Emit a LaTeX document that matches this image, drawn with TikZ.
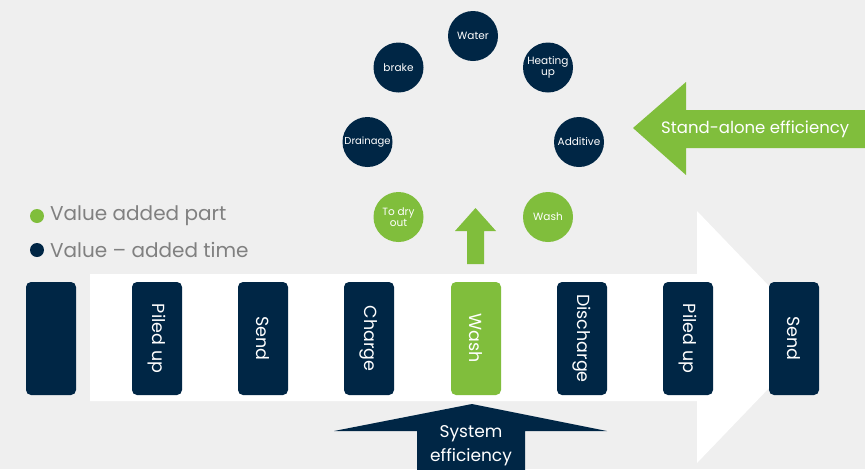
\documentclass[tikz,border=0pt]{standalone}
\usepackage{fontspec}
\setmainfont{Poppins}
\definecolor{navy}{RGB}{0,38,69}
\definecolor{leaf}{RGB}{128,190,60}
\definecolor{paper}{RGB}{239,239,239}
\definecolor{legendgray}{RGB}{128,128,128}
\begin{document}
\begin{tikzpicture}[x=1pt,y=1pt,
	stage/.style={fill=navy,rounded corners=5pt,minimum width=50pt,minimum height=113pt,inner sep=0pt,text=white,font=\fontsize{17.5}{17.5}\selectfont},
	task/.style={circle,fill=navy,minimum size=50pt,inner sep=0pt,text=white,align=center,font=\fontsize{10.5}{10.5}\selectfont},
	legend/.style={right,inner sep=0pt,text=legendgray,font=\fontsize{20}{20}\selectfont}]
					\fill [paper] (0,0) rectangle (865,-469);
					\useasboundingbox (0,0) rectangle (865,-469);
					% flow arrow
					\fill [white] (90,-274) -- (697,-274) -- (697,-211) -- (818,-337) -- (697,-463) -- (697,-401) -- (90,-401) -- cycle;
					% stages
					\node [stage] (s0) at (51,-338.5) {};
					\node [stage] (s1) at (157,-338.5) {\rotatebox{-90}{Piled up}};
					\node [stage] (s2) at (263,-338.5) {\rotatebox{-90}{Send}};
					\node [stage] (s3) at (369,-338.5) {\rotatebox{-90}{Charge}};
					\node [stage,fill=leaf] (s4) at (476,-338.5) {\rotatebox{-90}{Wash}};
					\node [stage] (s5) at (582,-338.5) {\rotatebox{-90}{Discharge}};
					\node [stage] (s6) at (688,-338.5) {\rotatebox{-90}{Piled up}};
					\node [stage] (s7) at (794,-338.5) {\rotatebox{-90}{Send}};
					% legend
					\fill [leaf] (37,-216) circle (7);
					\node [legend] (l0) at (50,-216) {Value added part};
					\fill [navy] (37,-250) circle (7);
					\node [legend] (l1) at (50,-250) {Value – added time};
					% wash cycle
					\node [task] (c0) at (473,-36) {Water};
					\node [task] (c1) at (548,-67.5) {Heating\\up};
					\node [task] (c2) at (579,-142) {Additive};
					\node [task,fill=leaf] (c3) at (548,-217) {Wash};
					\node [task,fill=leaf] (c4) at (398.5,-217) {To dry\\out};
					\node [task,font=\fontsize{10}{10}\selectfont] (c5) at (367.5,-142) {Drainage};
					\node [task] (c6) at (398.5,-67.5) {brake};
					% up arrow
					\fill [leaf] (467,-264) -- (467,-231) -- (455,-231) -- (475.5,-208) -- (496,-231) -- (484,-231) -- (484,-264) -- cycle;
					% stand-alone arrow
					\fill [leaf] (870,-110) -- (686,-110) -- (686,-82) -- (633,-128) -- (686,-175) -- (686,-148) -- (870,-148) -- cycle;
					\node [right,inner sep=0pt,text=white,font=\fontsize{16.5}{16.5}\selectfont] (t0) at (661,-129) {Stand-alone efficiency};
					% system arrow
					\fill [navy] (417,-475) -- (417,-431) -- (334,-431) -- (472,-404) -- (607,-431) -- (525,-431) -- (525,-475) -- cycle;
					\node [align=center,inner sep=0pt,text=white,font=\fontsize{17}{24}\selectfont] (t1) at (471,-446) {System\\efficiency};
				\end{tikzpicture}
\end{document}
